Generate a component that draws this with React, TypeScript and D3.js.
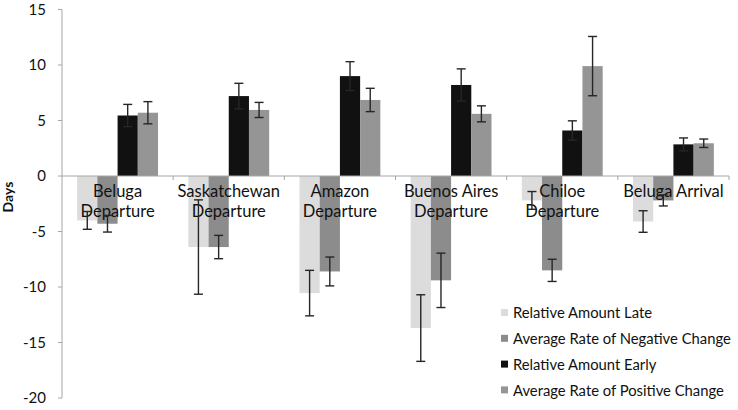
import React from "react";
import * as d3 from "d3";

const categories = [
  ["Beluga", "Departure"],
  ["Saskatchewan", "Departure"],
  ["Amazon", "Departure"],
  ["Buenos Aires", "Departure"],
  ["Chiloe", "Departure"],
  ["Beluga Arrival"],
];
const seriesNames = [
  "Relative Amount Late",
  "Average Rate of Negative Change",
  "Relative Amount Early",
  "Average Rate of Positive Change",
];
const seriesColors = ["#dcdcdc", "#8c8c8c", "#111111", "#959595"];

const relLate = [-4.0, -6.4, -10.55, -13.7, -2.2, -4.1];
const relLateErr = [0.8, 4.25, 2.05, 3.0, 0.8, 0.97];
const negRate = [-4.3, -6.4, -8.6, -9.4, -8.5, -2.2];
const negRateErr = [0.75, 1.05, 1.3, 2.45, 1.0, 0.5];
const relEarly = [5.45, 7.2, 9.0, 8.2, 4.1, 2.85];
const relEarlyErr = [1.0, 1.15, 1.3, 1.45, 0.87, 0.58];
const posRate = [5.7, 5.95, 6.85, 5.6, 9.9, 2.95];
const posRateErr = [1.0, 0.68, 1.05, 0.72, 2.67, 0.38];

const yTicks = [15, 10, 5, 0, -5, -10, -15, -20];

const values = [relLate, negRate, relEarly, posRate];
const errors = [relLateErr, negRateErr, relEarlyErr, posRateErr];

export default function App() {
  const W = 738;
  const H = 410;
  const left = 62;
  const right = 729;
  const font = "Lato, 'Open Sans', sans-serif";

  const catKeys = categories.map((c) => c.join(" "));
  const x0 = d3.scaleBand<string>().domain(catKeys).range([left, right]).padding(0);
  const bw = x0.bandwidth();
  const barW = bw / 5.5;
  const x1 = d3
    .scaleBand<string>()
    .domain(seriesNames)
    .range([barW * 0.75, bw - barW * 0.75])
    .padding(0);
  const y = d3.scaleLinear().domain([-20, 15]).range([398, 9.5]);
  const y0 = y(0);
  const cap = 4.5;

  return (
    <svg
      width={W}
      height={H}
      style={{ position: "absolute", left: 0, top: 0, background: "#fff" }}
      fontFamily={font}
    >
      {/* y axis */}
      <line x1={left} x2={left} y1={y(15)} y2={y(-20)} stroke="#a6a6a6" strokeWidth={1} />
      {yTicks.map((t) => (
        <g key={t}>
          <line x1={left - 4} x2={left} y1={y(t)} y2={y(t)} stroke="#a6a6a6" />
          <text x={left - 16} y={y(t)} dy="0.35em" textAnchor="end" fontSize={15} fill="#111">
            {t}
          </text>
        </g>
      ))}
      <text
        transform={`translate(${13},${197}) rotate(-90)`}
        textAnchor="middle"
        fontSize={14}
        fontWeight="bold"
        fill="#111"
      >
        Days
      </text>

      {/* bars */}
      {catKeys.map((ck, ci) => (
        <g key={ck} transform={`translate(${x0(ck)},0)`}>
          {seriesNames.map((s, si) => {
            const v = values[si][ci];
            const yy = y(Math.max(0, v));
            const hh = Math.abs(y(v) - y0);
            return (
              <rect
                key={s}
                x={x1(s)}
                y={yy}
                width={x1.bandwidth()}
                height={hh}
                fill={seriesColors[si]}
              />
            );
          })}
        </g>
      ))}

      {/* x axis */}
      <line x1={left} x2={right} y1={y0} y2={y0} stroke="#a6a6a6" strokeWidth={1} />
      {catKeys.map((ck) => (
        <line
          key={ck}
          x1={(x0(ck) as number) + bw}
          x2={(x0(ck) as number) + bw}
          y1={y0}
          y2={y0 + 4}
          stroke="#a6a6a6"
        />
      ))}

      {/* category labels */}
      {categories.map((lines, ci) => (
        <text
          key={ci}
          x={(x0(catKeys[ci]) as number) + bw / 2}
          y={197}
          textAnchor="middle"
          fontSize={16.5}
          fill="#111"
        >
          {lines.map((ln, li) => (
            <tspan key={li} x={(x0(catKeys[ci]) as number) + bw / 2} dy={li === 0 ? 0 : 20}>
              {ln}
            </tspan>
          ))}
        </text>
      ))}

      {/* error bars */}
      {catKeys.map((ck, ci) => (
        <g key={ck} transform={`translate(${x0(ck)},0)`}>
          {seriesNames.map((s, si) => {
            const v = values[si][ci];
            const e = errors[si][ci];
            const cx = (x1(s) as number) + x1.bandwidth() / 2;
            const ya = y(v + e);
            const yb = y(v - e);
            return (
              <g key={s} stroke="#262626" strokeWidth={1.4}>
                <line x1={cx} x2={cx} y1={ya} y2={yb} />
                <line x1={cx - cap} x2={cx + cap} y1={ya} y2={ya} />
                <line x1={cx - cap} x2={cx + cap} y1={yb} y2={yb} />
              </g>
            );
          })}
        </g>
      ))}

      {/* legend */}
      <rect x={496} y={300} width={242} height={104} fill="#fff" />
      {seriesNames.map((s, si) => {
        const ly = 313 + si * 25.8;
        return (
          <g key={s}>
            <rect x={501} y={ly - 4} width={7} height={7} fill={seriesColors[si]} />
            <text x={513} y={ly} dy="0.35em" fontSize={14.8} fill="#111">
              {s}
            </text>
          </g>
        );
      })}
    </svg>
  );
}
